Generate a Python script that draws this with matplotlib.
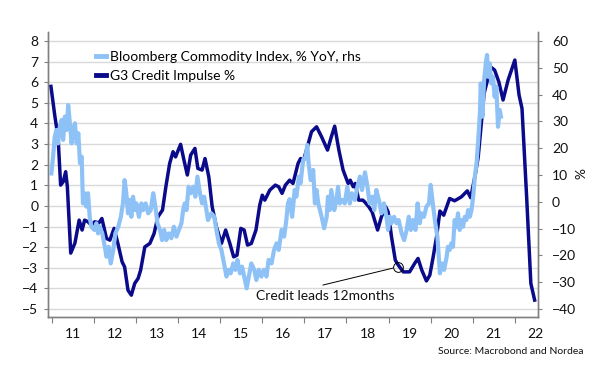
import matplotlib
matplotlib.use("Agg")
import matplotlib.pyplot as plt
import numpy as np

plt.rcParams['font.family'] = ['Lato', 'DejaVu Sans']

# G3 credit impulse, % (lhs) - decimal year, value
credit_t = [2010.98, 2011.07, 2011.15, 2011.21, 2011.27, 2011.33, 2011.37, 2011.45, 2011.55,
            2011.65, 2011.72, 2011.78, 2011.86, 2011.94, 2012.02, 2012.12, 2012.19, 2012.30,
            2012.38, 2012.48, 2012.57, 2012.67, 2012.73, 2012.81, 2012.89, 2012.97, 2013.05,
            2013.11, 2013.21, 2013.33, 2013.43, 2013.52, 2013.63, 2013.71, 2013.80, 2013.88,
            2013.94, 2014.06, 2014.14, 2014.22, 2014.30, 2014.40, 2014.47, 2014.57, 2014.64,
            2014.73, 2014.81, 2014.91, 2015.03, 2015.13, 2015.23, 2015.32, 2015.40, 2015.49,
            2015.57, 2015.65, 2015.74, 2015.85, 2015.94, 2016.00, 2016.06, 2016.18, 2016.31,
            2016.39, 2016.47, 2016.55, 2016.65, 2016.73, 2016.85, 2016.91, 2016.97, 2017.05,
            2017.17, 2017.29, 2017.41, 2017.55, 2017.64, 2017.72, 2017.82, 2017.92, 2018.04,
            2018.09, 2018.16, 2018.21, 2018.29, 2018.39, 2018.43, 2018.53, 2018.61, 2018.74,
            2018.83, 2018.93, 2018.99, 2019.07, 2019.16, 2019.23, 2019.35, 2019.50, 2019.62,
            2019.70, 2019.79, 2019.90, 2019.98, 2020.06, 2020.14, 2020.22, 2020.31, 2020.45,
            2020.57, 2020.73, 2020.87, 2020.95, 2021.05, 2021.13, 2021.21, 2021.27, 2021.37,
            2021.44, 2021.52, 2021.62, 2021.72, 2021.84, 2022.00, 2022.10, 2022.17, 2022.28,
            2022.38, 2022.47]
credit_v = [5.80, 4.40, 3.30, 1.01, 1.17, 1.66, 0.93, -2.29, -1.80,
            -0.69, -1.17, -0.69, -0.77, -0.93, -0.77, -0.82, -0.61, -1.58,
            -1.66, -1.09, -1.82, -2.71, -2.96, -4.09, -4.33, -3.76, -3.52,
            -3.12, -1.99, -1.82, -1.34, -0.53, -0.20, 0.93, 2.06, 2.63,
            2.38, 2.99, 2.22, 1.50, 2.47, 2.79, 1.82, 1.74, 2.30,
            1.41, -0.04, -1.01, -1.82, -1.17, -1.82, -2.47, -2.39, -1.09,
            -1.17, -1.90, -1.82, -1.17, 0.04, 0.52, 0.28, 0.77, 1.01,
            0.93, 0.61, 1.01, 1.25, 1.09, 2.06, 2.30, 2.14, 2.71,
            3.60, 3.84, 3.35, 2.71, 3.35, 3.87, 2.71, 1.74, 1.09,
            1.25, 0.93, 1.09, 0.28, 0.28, 0.20, -0.04, -0.29, -1.17,
            -0.53, -0.04, -0.29, -1.50, -2.63, -2.87, -3.20, -3.20, -2.79,
            -2.55, -3.12, -3.64, -3.36, -2.47, -1.50, -0.25, -0.45, 0.36,
            0.25, 0.44, 0.73, 0.40, 1.41, 2.38, 4.16, 5.46, 6.27,
            6.72, 6.59, 6.02, 5.14, 6.11, 7.08, 5.38, 4.73, 0.44,
            -3.76, -4.57]

# Bloomberg Commodity Index, % YoY (rhs)
bcom_t = [2010.99, 2011.03, 2011.07, 2011.11, 2011.15, 2011.19, 2011.23, 2011.27, 2011.31,
          2011.35, 2011.39, 2011.43, 2011.47, 2011.51, 2011.55, 2011.59, 2011.63, 2011.67,
          2011.71, 2011.74, 2011.78, 2011.82, 2011.86, 2011.90, 2011.94, 2012.01, 2012.06,
          2012.10, 2012.14, 2012.20, 2012.26, 2012.30, 2012.35, 2012.40, 2012.46, 2012.51,
          2012.58, 2012.64, 2012.69, 2012.73, 2012.77, 2012.81, 2012.85, 2012.89, 2012.93,
          2012.97, 2013.01, 2013.07, 2013.13, 2013.17, 2013.23, 2013.29, 2013.35, 2013.41,
          2013.46, 2013.51, 2013.57, 2013.62, 2013.67, 2013.72, 2013.78, 2013.84, 2013.90,
          2013.96, 2014.02, 2014.08, 2014.12, 2014.16, 2014.20, 2014.25, 2014.30, 2014.36,
          2014.41, 2014.46, 2014.52, 2014.57, 2014.62, 2014.68, 2014.71, 2014.75, 2014.79,
          2014.86, 2014.91, 2014.97, 2015.03, 2015.09, 2015.15, 2015.20, 2015.25, 2015.31,
          2015.36, 2015.41, 2015.47, 2015.52, 2015.57, 2015.63, 2015.68, 2015.74, 2015.81,
          2015.86, 2015.92, 2015.98, 2016.04, 2016.10, 2016.15, 2016.22, 2016.28, 2016.34,
          2016.39, 2016.46, 2016.52, 2016.57, 2016.61, 2016.65, 2016.71, 2016.77, 2016.81,
          2016.87, 2016.91, 2016.97, 2017.03, 2017.07, 2017.10, 2017.15, 2017.21, 2017.25,
          2017.29, 2017.33, 2017.37, 2017.41, 2017.47, 2017.53, 2017.56, 2017.60, 2017.64,
          2017.71, 2017.76, 2017.80, 2017.84, 2017.90, 2017.96, 2018.02, 2018.08, 2018.13,
          2018.20, 2018.26, 2018.32, 2018.37, 2018.44, 2018.50, 2018.55, 2018.61, 2018.66,
          2018.71, 2018.77, 2018.83, 2018.89, 2018.95, 2018.99, 2019.03, 2019.07, 2019.13,
          2019.19, 2019.24, 2019.31, 2019.37, 2019.43, 2019.48, 2019.53, 2019.58, 2019.64,
          2019.69, 2019.74, 2019.78, 2019.84, 2019.90, 2019.96, 2020.00, 2020.06, 2020.11,
          2020.16, 2020.22, 2020.27, 2020.32, 2020.38, 2020.41, 2020.45, 2020.49, 2020.53,
          2020.57, 2020.61, 2020.65, 2020.69, 2020.73, 2020.77, 2020.81, 2020.85, 2020.89,
          2020.93, 2020.97, 2021.01, 2021.05, 2021.09, 2021.13, 2021.17, 2021.19, 2021.23,
          2021.27, 2021.31, 2021.34, 2021.36, 2021.40, 2021.44, 2021.48, 2021.52, 2021.56,
          2021.60, 2021.64, 2021.67]
bcom_v = [10.6, 16.8, 24.3, 26.8, 21.8, 28.0, 30.5, 23.1, 31.8,
          26.8, 36.1, 29.3, 21.8, 26.8, 29.3, 21.8, 25.6, 14.4,
          16.8, -0.6, 3.2, -1.8, 3.2, -5.6, -9.3, -10.5, -8.0,
          -11.8, -9.3, -11.8, -16.8, -20.5, -16.8, -23.0, -18.0, -11.8,
          -9.3, -5.6, -0.6, 8.1, 3.2, -4.3, 0.7, -5.6, 1.9,
          -3.1, -0.6, -5.6, -0.6, -3.1, -0.6, -4.3, -3.1, 3.2,
          -1.8, -8.0, -10.5, -14.3, -10.5, -14.3, -11.8, -13.6, -9.3,
          -13.0, -10.5, -8.0, -3.1, -0.6, -3.1, 5.6, 3.2, 5.6,
          1.9, 9.4, 3.2, -0.6, 1.9, -3.7, -6.8, -5.6, -4.3,
          -5.6, -10.5, -15.5, -18.0, -23.0, -27.9, -25.4, -26.7, -23.0,
          -25.4, -21.7, -26.7, -24.2, -27.9, -32.3, -27.9, -23.0, -25.4,
          -29.2, -25.4, -27.9, -25.4, -27.9, -21.7, -23.0, -18.0, -15.5,
          -18.0, -10.5, -13.0, -7.0, -0.6, 1.0, -5.6, 4.4, 1.9,
          9.4, 6.9, 15.6, 16.8, 21.2, 14.4, 8.1, 11.9, -0.6,
          4.4, -0.6, -3.1, -5.6, -9.9, -5.6, 1.9, -3.1, 4.4,
          -3.1, 0.7, 5.6, -0.6, 0.7, -0.6, 5.6, -0.6, 3.2,
          0.7, 5.6, 9.4, 4.4, 11.0, 5.6, -0.6, 1.9, -3.1,
          4.4, 0.7, -4.3, -0.6, -5.6, -10.5, -5.6, -8.0, -5.6,
          -8.0, -6.8, -11.8, -14.3, -10.5, -5.6, -10.5, -6.8, -10.5,
          -0.6, -8.0, -4.3, -5.6, -1.8, -0.6, 6.3, -1.8, -8.0,
          -13.0, -26.7, -23.0, -25.4, -20.5, -16.8, -18.0, -15.5, -16.8,
          -6.8, -9.3, -4.3, -10.5, -6.8, -9.3, -5.6, -6.8, -3.1,
          -5.6, -3.1, 1.9, 9.4, 14.4, 23.1, 33.0, 44.2, 31.8,
          45.4, 51.7, 54.8, 46.7, 51.7, 44.2, 46.7, 39.2, 43.0,
          28.0, 34.3, 31.8]

years = list(range(2011, 2023))
year_labels = [str(y)[2:] for y in years]
left_ticks = list(range(-5, 9))
right_ticks = list(range(-40, 61, 10))

# annotation: point on the credit line, start of the leader line, text anchor
note_xy = (2019.22, -2.96)
note_from = (2017.44, -3.84)
note_text_at = (2015.85, -4.38)

DARK = '#0a0a8a'
LIGHT = '#8ec2f6'
GREY = '#808080'

fig = plt.figure(figsize=(6, 3.83), dpi=100)
ax = fig.add_axes([48/600, 1-317/383, 490/600, 285/383])
ax2 = ax.twinx()

ax.set_xlim(2010.91, 2022.55)
ax.set_ylim(-5.39, 8.44)
ax2.set_ylim((-5.39-0.2)*100/13, (8.44-0.2)*100/13)

ax.yaxis.grid(True, color='#d9d9d9', lw=1)
ax.set_axisbelow(True)

l2, = ax.plot(credit_t, credit_v, color=DARK, lw=2.5, solid_joinstyle='round', zorder=3)
l1, = ax2.plot(bcom_t, bcom_v, color=LIGHT, lw=3.0, solid_joinstyle='round', zorder=3)

ax.plot(*note_xy, 'o', ms=7, mfc='none', mec='black', mew=0.7, zorder=5)
ax.annotate('', xy=note_xy, xytext=note_from,
            arrowprops=dict(arrowstyle='-', color='black', lw=0.7, shrinkA=0, shrinkB=3.5))
ax.text(*note_text_at, 'Credit leads 12months', fontsize=10, color='#111111',
        ha='left', va='center')

for a in (ax, ax2):
    a.spines['top'].set_visible(False)
    for s in ('left', 'right', 'bottom'):
        a.spines[s].set_color(GREY)
        a.spines[s].set_linewidth(1)

ax.set_yticks(left_ticks)
ax.tick_params(axis='y', length=3, color=GREY, labelsize=10, pad=4, labelcolor='#111111')
ax2.set_yticks(right_ticks)
ax2.tick_params(axis='y', length=3, color=GREY, labelsize=10, pad=7, labelcolor='#111111')

ax.set_xticks(years)
ax.set_xticklabels([])
ax.set_xticks([y + 0.5 for y in years], minor=True)
ax.set_xticklabels(year_labels, minor=True)
ax.tick_params(axis='x', which='major', length=4, color=GREY)
ax.tick_params(axis='x', which='minor', length=0, labelsize=10, pad=8, labelcolor='#111111')

fig.text(577/600, 1-174/383, '%', rotation=270, ha='center', va='center', fontsize=10, color='#111111')
fig.text(583/600, 1-351/383, 'Source: Macrobond and Nordea', ha='right', va='center',
         fontsize=7.5, color='#111111')

leg = ax2.legend([l1, l2], ['Bloomberg Commodity Index, % YoY, rhs', 'G3 Credit Impulse %'],
                 loc='upper left', bbox_to_anchor=(96/600, 1-51/383), bbox_transform=fig.transFigure,
                 frameon=False, fontsize=10, handlelength=0.75, handletextpad=0.25,
                 borderpad=0, borderaxespad=0, labelspacing=0.5)
for h in leg.legend_handles:
    h.set_linewidth(3.5)

fig.savefig('out.png', dpi=100)
